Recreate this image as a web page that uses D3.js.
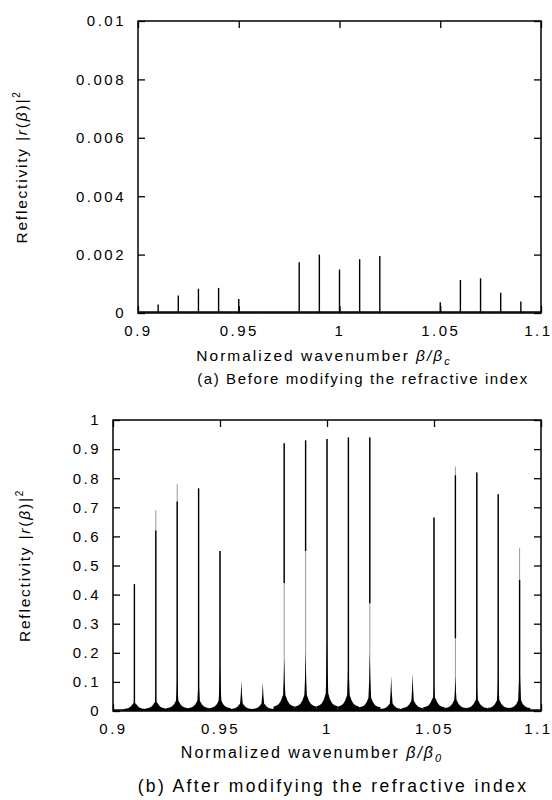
<!DOCTYPE html>
<html>
<head>
<meta charset="utf-8">
<script src="https://cdn.jsdelivr.net/npm/d3@7"></script>
<style>
body { margin: 0; background: #fff; }
svg { font-family: "Liberation Sans", Arial, sans-serif; }
</style>
</head>
<body>
<svg id="chart" width="552" height="800"></svg>
<script>
// resonance positions, normalized wavenumber
const peakPos = [0.91, 0.92, 0.93, 0.94, 0.95, 0.96, 0.97, 0.98, 0.99, 1.00,
                 1.01, 1.02, 1.03, 1.04, 1.05, 1.06, 1.07, 1.08, 1.09];

// (a) before modifying: peak reflectivity
const peakA = [0.00029, 0.0006, 0.00083, 0.00086, 0.00048, 0.00003, 0.00002, 0.00174, 0.002, 0.00149,
               0.00184, 0.00195, 0.00003, 0.00002, 0.00037, 0.00113, 0.00119, 0.00069, 0.00039];

// (b) after modifying: dark part of each peak, faint top, broad base, skirt
const peakB  = [0.436, 0.62, 0.72, 0.765, 0.55, 0, 0, 0.92, 0.93, 0.935,
                0.94, 0.94, 0, 0, 0.665, 0.81, 0.82, 0.745, 0.45];
const faintB = [0.436, 0.69, 0.78, 0.765, 0.55, 0, 0, 0.92, 0.93, 0.935,
                0.94, 0.94, 0, 0, 0.665, 0.84, 0.82, 0.745, 0.56];
// lower end of the dark stretch of each line (below it the trace is faint)
const darkLowB = [0, 0, 0, 0, 0, 0, 0, 0.44, 0.55, 0,
                  0, 0.37, 0, 0, 0, 0.25, 0, 0, 0];
const baseB  = [0.05, 0.05, 0.12, 0.13, 0.165, 0.105, 0.1, 0.18, 0.2, 0.24,
                0.21, 0.2, 0.12, 0.13, 0.09, 0.12, 0.1, 0.12, 0.19];
const skirtB = [0.028, 0.032, 0.038, 0.038, 0.038, 0.028, 0.028, 0.06, 0.06, 0.065,
                0.06, 0.05, 0.028, 0.038, 0.05, 0.04, 0.04, 0.04, 0.04];

const xTicks = [0.9, 0.95, 1, 1.05, 1.1];
const xTickLabels = ["0.9", "0.95", "1", "1.05", "1.1"];
const yTicksA = [0, 0.002, 0.004, 0.006, 0.008, 0.01];
const yTickLabelsA = ["0", "0.002", "0.004", "0.006", "0.008", "0.01"];
const yTicksB = [0, 0.1, 0.2, 0.3, 0.4, 0.5, 0.6, 0.7, 0.8, 0.9, 1];
const yTickLabelsB = ["0", "0.1", "0.2", "0.3", "0.4", "0.5", "0.6", "0.7", "0.8", "0.9", "1"];

// shape of one spike: offset (x 0.001) and relative height
const spikeShape = [[-2.5, 0], [-1.2, 0.08], [-0.6, 0.2], [-0.25, 0.55], [0, 1],
                    [0.25, 0.55], [0.6, 0.2], [1.2, 0.08], [2.5, 0]];
const skirtShape = [[-5, 0.25], [-3.5, 0.31], [-2.5, 0.4], [-1.5, 0.6], [-0.8, 0.85], [0, 1],
                    [0.8, 0.85], [1.5, 0.6], [2.5, 0.4], [3.5, 0.31], [5, 0.25]];

const svg = d3.select("#chart");

const panel = (cfg) => {
  const x = d3.scaleLinear().domain([0.9, 1.1]).range([cfg.left, cfg.right]);
  const y = d3.scaleLinear().domain([0, cfg.yMax]).range([cfg.bottom, cfg.top]);
  const g = svg.append("g");

  const area = d3.area()
      .x(d => x(d[0]))
      .y0(y(0))
      .y1(d => y(d[1]));

  // skirts (the dark floor between resonances)
  if (cfg.skirt) {
    cfg.skirt.forEach((s, i) => {
      const pts = skirtShape.map(p => [peakPos[i] + p[0] / 1000, s * p[1]])
          .filter(p => p[0] >= 0.9 && p[0] <= 1.1);
      g.append("path").attr("d", area(pts)).attr("fill", "#000");
    });
  }

  // faint trace behind the lines
  if (cfg.faint) {
    g.selectAll(null).data(peakPos).join("line")
      .attr("x1", d => x(d)).attr("x2", d => x(d))
      .attr("y1", y(0))
      .attr("y2", (d, i) => y(cfg.faint[i]))
      .attr("stroke", "#9a9a9a")
      .attr("stroke-width", 1);
  }

  // thin resonance lines (dark part)
  g.selectAll(null).data(peakPos).join("line")
    .attr("x1", d => x(d)).attr("x2", d => x(d))
    .attr("y1", (d, i) => y(cfg.darkLow ? cfg.darkLow[i] : 0))
    .attr("y2", (d, i) => y(cfg.peak[i]))
    .attr("stroke", "#000")
    .attr("stroke-width", 1.4);

  // broad bases of the spikes
  cfg.base.forEach((b, i) => {
    const w = cfg.baseWidth;
    const pts = spikeShape.map(p => [peakPos[i] + p[0] * w / 1000, b * p[1]]);
    g.append("path").attr("d", area(pts)).attr("fill", "#000");
  });

  // baseline of the curve
  g.append("line")
    .attr("x1", x(0.9)).attr("x2", x(1.1))
    .attr("y1", y(0) - 1).attr("y2", y(0) - 1)
    .attr("stroke", "#000").attr("stroke-width", 1.5);

  // frame
  g.append("rect")
    .attr("x", cfg.left).attr("y", cfg.top)
    .attr("width", cfg.right - cfg.left).attr("height", cfg.bottom - cfg.top)
    .attr("fill", "none").attr("stroke", "#000").attr("stroke-width", 1.5);

  const styleAxis = (sel) => {
    sel.select(".domain").remove();
    sel.selectAll("line").attr("stroke", "#000").attr("stroke-width", 1.3);
    sel.selectAll("text")
      .attr("font-family", "'Liberation Sans', Arial, sans-serif")
      .attr("font-size", 15)
      .attr("letter-spacing", 2.5)
      .attr("fill", "#000");
  };

  g.append("g").attr("transform", `translate(${cfg.left},0)`)
    .call(d3.axisLeft(y).tickValues(cfg.yTicks).tickSize(-7).tickPadding(12)
      .tickFormat((d, i) => cfg.yLabels[i]))
    .call(styleAxis);
  g.append("g").attr("transform", `translate(${cfg.right},0)`)
    .call(d3.axisRight(y).tickValues(cfg.yTicks).tickSize(-7).tickFormat(""))
    .call(styleAxis);
  g.append("g").attr("transform", `translate(0,${cfg.top})`)
    .call(d3.axisTop(x).tickValues(xTicks).tickSize(-7).tickFormat(""))
    .call(styleAxis);
  const xb = g.append("g").attr("transform", `translate(0,${cfg.bottom})`)
    .call(d3.axisBottom(x).tickValues(xTicks).tickSize(-7).tickPadding(12)
      .tickFormat((d, i) => xTickLabels[i]))
    .call(styleAxis);
  // last label sits against the page edge
  xb.selectAll(".tick text").filter((d, i) => i === xTicks.length - 1)
    .attr("text-anchor", "end").attr("x", 552 - cfg.right);

  // y title
  const yt = g.append("text")
    .attr("transform", `translate(${cfg.yTitleX},${(cfg.top + cfg.bottom) / 2}) rotate(-90)`)
    .attr("text-anchor", "middle")
    .attr("font-size", 15.5)
    .attr("letter-spacing", 1.8);
  yt.append("tspan").text("Reflectivity |");
  yt.append("tspan").attr("font-style", "italic").text("r");
  yt.append("tspan").text("(");
  yt.append("tspan").attr("font-style", "italic").text("β");
  yt.append("tspan").text(")|");
  yt.append("tspan").attr("font-size", 10).attr("dy", -7).text("2");

  // x title
  const xt = g.append("text")
    .attr("x", cfg.xTitleX).attr("y", cfg.xTitleY)
    .attr("text-anchor", "middle")
    .attr("font-size", cfg.xTitleSize)
    .attr("letter-spacing", 2);
  xt.append("tspan").text("Normalized wavenumber ");
  xt.append("tspan").attr("font-style", "italic").text("β/β");
  xt.append("tspan").attr("font-style", "italic").attr("font-size", 11).attr("dy", 4).text(cfg.sub);

  g.append("text")
    .attr("x", cfg.capX).attr("y", cfg.capY)
    .attr("text-anchor", "middle")
    .attr("font-size", cfg.capSize)
    .attr("letter-spacing", cfg.capSpacing)
    .text(cfg.caption);
};

panel({
  left: 138, right: 541, top: 21, bottom: 313, yMax: 0.01,
  yTicks: yTicksA, yLabels: yTickLabelsA,
  peak: peakA, base: peakA.map(v => v * 0.06), baseWidth: 0.4,
  yTitleX: 27, xTitleX: 324, xTitleY: 361, xTitleSize: 15.5, sub: "c",
  capX: 363, capY: 384, capSize: 15, capSpacing: 1.6,
  caption: "(a)  Before modifying the refractive index"
});

panel({
  left: 113, right: 541, top: 420, bottom: 711, yMax: 1,
  yTicks: yTicksB, yLabels: yTickLabelsB,
  peak: peakB, faint: faintB, darkLow: darkLowB, base: baseB, skirt: skirtB, baseWidth: 1.1,
  yTitleX: 30, xTitleX: 312, xTitleY: 758, xTitleSize: 16, sub: "0",
  capX: 333, capY: 792, capSize: 17.5, capSpacing: 2.4,
  caption: "(b)  After modifying the refractive index"
});
</script>
</body>
</html>
